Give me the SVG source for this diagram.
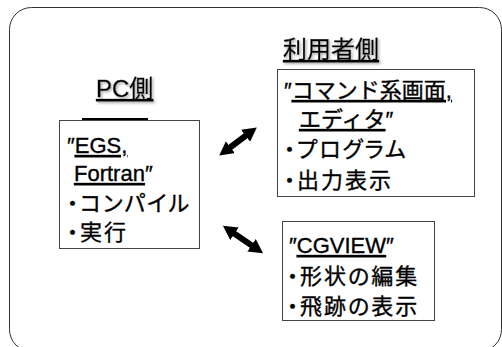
<svg xmlns="http://www.w3.org/2000/svg" width="502" height="347" viewBox="0 0 502 347">
<defs>
<filter id="sh" x="-10%" y="-20%" width="130%" height="150%">
<feDropShadow dx="1.5" dy="1.5" stdDeviation="0.8" flood-color="#999" flood-opacity="0.8"/>
</filter>
<marker id="ah" markerUnits="userSpaceOnUse" markerWidth="14" markerHeight="15" viewBox="0 0 14 15" refX="3" refY="7.5" orient="auto-start-reverse">
<path d="M0,0 L14,7.5 L0,15 z" fill="#000"/>
</marker>
</defs>
<style>
text{font-family:"Liberation Sans","Noto Sans CJK JP",sans-serif;fill:#000;stroke:#000;stroke-width:0.35}
.t{font-size:22px}
.p{font-feature-settings:"palt";letter-spacing:2px}
.h{font-size:24px;text-decoration:underline}
.box{fill:#fff;stroke:#444;stroke-width:1}
.u{text-decoration:underline}
.c{fill:none;stroke:#000;stroke-width:6}
</style>
<rect x="9.5" y="7.5" width="492" height="344" rx="22" fill="#fff" stroke="#333" stroke-width="1"/>
<g id="title-pc"><text class="h" x="96" y="97" filter="url(#sh)">PC側</text></g>
<g id="title-user"><text class="h" x="283" y="58" filter="url(#sh)">利用者側</text></g>
<g id="pc-box">
<rect class="box" x="59.5" y="120.5" width="140" height="128"/>
<line x1="82" y1="119" x2="148" y2="119" stroke="#000" stroke-width="2"/>
<text class="t" x="67" y="153">″<tspan class="u">EGS,</tspan></text>
<text class="t" x="74" y="181"><tspan class="u">Fortran</tspan>″</text>
<text class="t p" x="67" y="211">・コンパイル</text>
<text class="t p" x="67" y="240">・実行</text>
</g>
<g id="editor-box">
<rect class="box" x="277.5" y="69.5" width="197" height="127"/>
<text class="t" x="284" y="98">″<tspan class="u">コマンド系画面,</tspan></text>
<text class="t" x="299" y="127"><tspan class="u">エディタ</tspan>″</text>
<text class="t p" x="284" y="157">・プログラム</text>
<text class="t p" x="284" y="188">・出力表示</text>
</g>
<g id="cgview-box">
<rect class="box" x="282.5" y="221.5" width="152" height="99"/>
<text class="t" x="289" y="253">″<tspan class="u">CGVIEW</tspan>″</text>
<text class="t p" x="287" y="284">・形状の編集</text>
<text class="t p" x="287" y="314">・飛跡の表示</text>
</g>
<g id="connectors">
<path class="c" d="M228,149 L248,134" marker-start="url(#ah)" marker-end="url(#ah)"/>
<path class="c" d="M232,232 L254,247" marker-start="url(#ah)" marker-end="url(#ah)"/>
</g>
</svg>
